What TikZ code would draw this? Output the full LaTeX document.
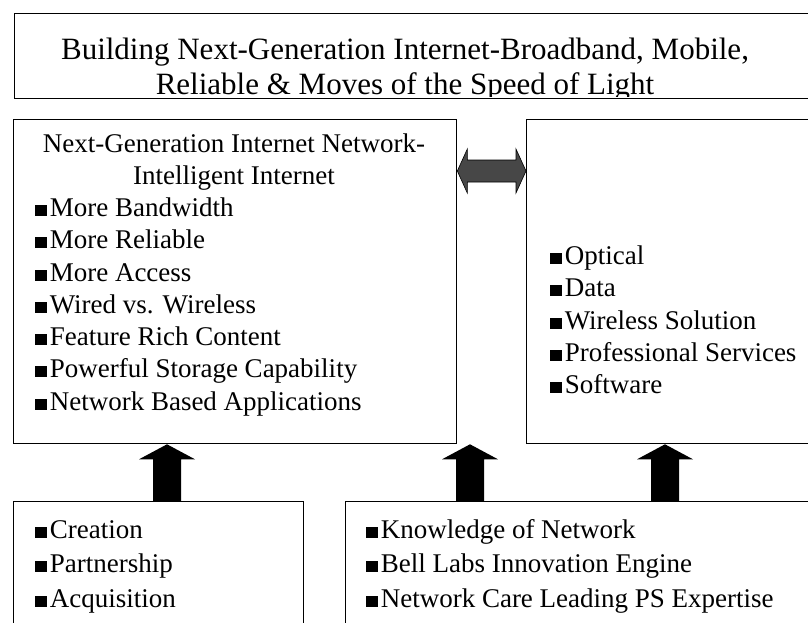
\documentclass[tikz,border=0pt]{standalone}
\usepackage{fontspec}
\setmainfont{Liberation Serif}
\usetikzlibrary{calc}
% small square bullet sitting on the baseline
\newcommand\sqb{\rule{0.42em}{0.42em}\kern0.12em}
% upward block arrow from #1 (tail) to #2 (tip)
\newcommand\blockup[2]{%
  \fill[blockfill] let \p1=(#1), \p2=(#2) in
    (\x1-14pt,\y1) -- (\x1-14pt,\y2-15pt) -- (\x1-28pt,\y2-15pt) -- (\x1,\y2)
    -- (\x1+28pt,\y2-15pt) -- (\x1+14pt,\y2-15pt) -- (\x1+14pt,\y1) -- cycle;}
\begin{document}
\begin{tikzpicture}[x=1pt,y=-1pt,
  box/.style={draw=black, line width=1.3pt, anchor=north west, inner sep=0pt},
  txt/.style={font=\fontsize{27}{31}\selectfont, inner sep=0pt},
  item/.style={txt, anchor=base west},
  blockfill/.style={fill=black},
  dblfill/.style={fill=black!72, draw=black, line width=0.6pt}]
\useasboundingbox (0,0) rectangle (808,623);
\clip (0,0) rectangle (808,623);

% frames
\node[box, minimum width=830pt, minimum height=85pt] (title) at (14,13) {};
\node[box, minimum width=443pt, minimum height=324pt] (main) at (13,119) {};
\node[box, minimum width=330pt, minimum height=324pt] (rt) at (526,119) {};
\node[box, minimum width=290pt, minimum height=160pt] (bl) at (13,501) {};
\node[box, minimum width=500pt, minimum height=160pt] (br) at (345,501) {};

% headline; the lower line is cut by the frame's bottom edge
\node[txt, anchor=base, font=\fontsize{31}{31}\selectfont] (t1) at (405,60)
  {Building Next-Generation Internet-Broadband, Mobile,};
\begin{scope}
  \clip (14,13) rectangle (808,97);
  \node[txt, anchor=base, font=\fontsize{31}{31}\selectfont] (t2) at (405,95)
    {Reliable \& Moves of the Speed of Light};
\end{scope}

% left frame
\node[txt, anchor=base] (h1) at (234,152) {Next-Generation Internet Network-};
\node[txt, anchor=base] (h2) at (234,184) {Intelligent Internet};
\node[item] (l1) at (35,216) {\sqb More Bandwidth};
\node[item] (l2) at (35,248) {\sqb More Reliable};
\node[item] (l3) at (35,281) {\sqb More Access};
\node[item] (l4) at (35,313) {\sqb Wired vs. Wireless};
\node[item] (l5) at (35,345) {\sqb Feature Rich Content};
\node[item] (l6) at (35,377) {\sqb Powerful Storage Capability};
\node[item] (l7) at (35,410) {\sqb Network Based Applications};

% right frame
\node[item] (r1) at (550,264) {\sqb Optical};
\node[item] (r2) at (550,296) {\sqb Data};
\node[item] (r3) at (550,329) {\sqb Wireless Solution};
\node[item] (r4) at (550,361) {\sqb Professional Services};
\node[item] (r5) at (550,393) {\sqb Software};

% lower frames
\node[item] (b1) at (35,538) {\sqb Creation};
\node[item] (b2) at (35,572) {\sqb Partnership};
\node[item] (b3) at (35,607) {\sqb Acquisition};
\node[item] (c1) at (366,538) {\sqb Knowledge of Network};
\node[item] (c2) at (366,572) {\sqb Bell Labs Innovation Engine};
\node[item] (c3) at (366,607) {\sqb Network Care Leading PS Expertise};

% arrow columns
\coordinate (a1) at (167,0);
\coordinate (a2) at (470,0);
\coordinate (a3) at (665,0);
\blockup{bl.north -| a1}{main.south -| a1}
\blockup{br.north -| a2}{main.south -| a2}
\blockup{br.north -| a3}{rt.south -| a3}

% two-way arrow between the upper frames
\coordinate (dy) at (0,171);
\path[dblfill] let \p1=(main.east |- dy), \p2=(rt.west |- dy) in
  (\x1,\y1) -- (\x1+10pt,\y1+22pt) -- (\x1+10pt,\y1+11pt) -- (\x2-10pt,\y1+11pt)
  -- (\x2-10pt,\y1+22pt) -- (\x2,\y1) -- (\x2-10pt,\y1-22pt) -- (\x2-10pt,\y1-11pt)
  -- (\x1+10pt,\y1-11pt) -- (\x1+10pt,\y1-22pt) -- cycle;
\end{tikzpicture}
\end{document}
